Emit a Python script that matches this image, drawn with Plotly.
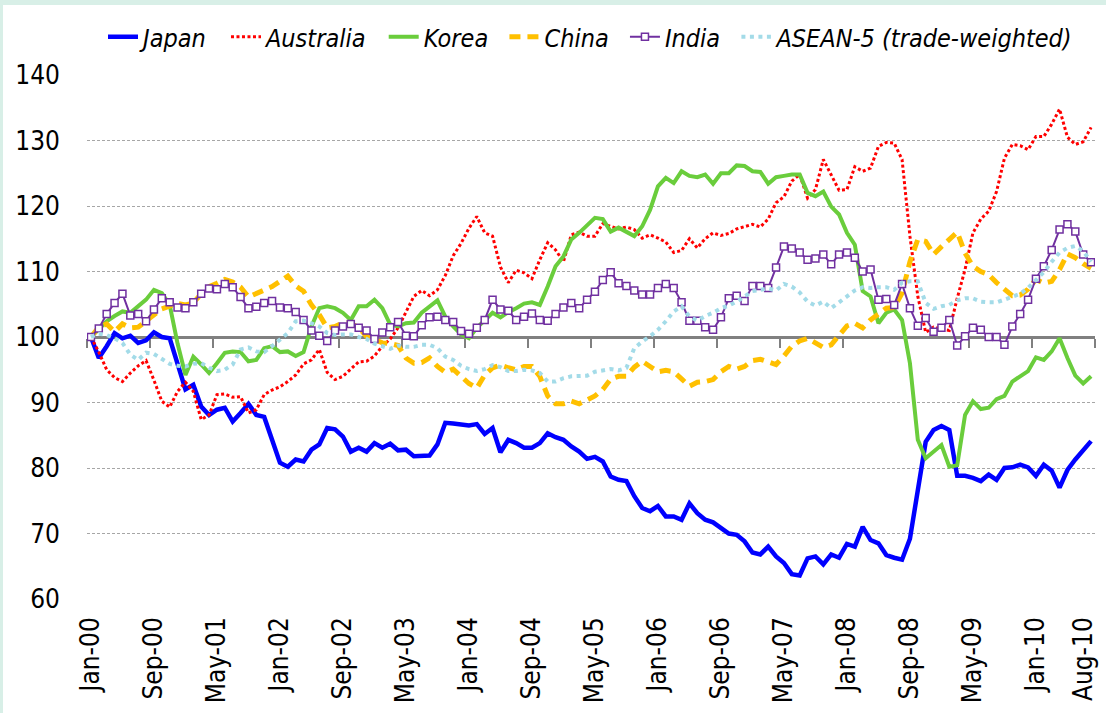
import plotly.graph_objects as go
import pandas as pd

months = pd.date_range("2000-01-01", periods=128, freq="MS").strftime("%b-%y").tolist()
idx = list(range(len(months)))
tick_idx = [0, 8, 16, 24, 32, 40, 48, 56, 64, 72, 80, 88, 96, 104, 112, 120, 127]
tick_labels = [months[i] for i in tick_idx]
# the last label is nudged inward so it fits the frame, as in the original
tick_pos = tick_idx[:-1] + [126]
boundaries = [i - 0.5 for i in range(0, 129, 8)]

japan = [100, 96.8, 98.6, 100.6, 99.8, 100.2, 99.1, 99.5, 100.7, 100.0, 99.8, 96.0, 92.0, 92.7, 89.4, 88.1,
         88.9, 89.2, 87.1, 88.4, 89.8, 88.1, 87.8, 84.3, 80.8, 80.2, 81.3, 81.0, 82.8, 83.6, 86.1, 85.9,
         84.8, 82.5, 83.1, 82.5, 83.8, 83.1, 83.7, 82.7, 82.8, 81.8, 81.9, 81.9, 83.6, 86.9, 86.8, 86.7,
         86.5, 86.7, 85.2, 86.1, 82.4, 84.3, 83.8, 83.1, 83.1, 83.8, 85.3, 84.7, 84.3, 83.3, 82.5, 81.4,
         81.7, 81.0, 78.7, 78.2, 78.0, 75.7, 73.9, 73.4, 74.2, 72.6, 72.6, 72.1, 74.6, 73.1, 72.1, 71.7,
         70.8, 70.0, 69.8, 68.8, 67.1, 66.8, 68.0, 66.5, 65.5, 63.8, 63.6, 66.2, 66.5, 65.3, 66.8, 66.3,
         68.4, 68.0, 71.0, 69.0, 68.5, 66.7, 66.3, 66.0, 69.2, 77.0, 84.0, 85.8, 86.4, 85.8, 78.8, 78.8,
         78.5, 78.0, 79.0, 78.2, 80.0, 80.1, 80.5, 80.1, 78.8, 80.5, 79.6, 77.0, 79.7, 81.3, 82.8, 84.1]

australia = [100, 97.7, 95.0, 93.8, 93.2, 94.5, 95.6, 96.4, 93.4, 90.2, 89.3, 91.7, 93.1, 91.7, 87.4, 88.1,
             91.2, 91.3, 90.8, 90.9, 88.4, 88.9, 91.2, 91.9, 92.4, 93.2, 94.2, 95.9, 96.5, 98.1, 94.6, 93.5,
             94.0, 95.1, 96.2, 96.3, 97.1, 98.6, 99.7, 101.4, 103.9, 106.2, 107.1, 106.3, 107.2, 109.4, 112.4, 114.3,
             116.6, 118.4, 115.9, 115.4, 110.7, 108.3, 110.2, 109.8, 108.9, 111.8, 114.4, 113.3, 111.5, 115.6, 116.0, 115.4,
             115.4, 117.3, 116.9, 116.5, 116.8, 116.4, 115.1, 115.6, 115.1, 114.5, 112.9, 113.2, 115.0, 113.6, 115.0, 115.9,
             115.5, 115.8, 116.5, 116.8, 117.2, 116.8, 118.0, 120.5, 121.4, 123.8, 124.8, 121.2, 122.5, 127.1, 124.8, 122.4,
             122.5, 126.0, 125.3, 125.8, 129.1, 129.7, 129.6, 127.1, 115.4, 106.2, 100.7, 101.5, 101.2, 101.0, 105.9, 110.3,
             115.9, 118.0, 119.2, 122.2, 127.3, 129.4, 129.2, 128.6, 130.6, 130.6, 132.5, 134.8, 130.5, 129.4, 129.8, 132.0]

korea = [100, 101.1, 102.4, 103.2, 103.9, 103.7, 104.7, 105.7, 107.2, 106.7, 104.9, 99.0, 94.2, 97.0, 95.8, 94.5,
         96.0, 97.6, 97.8, 97.7, 96.3, 96.5, 98.3, 98.6, 97.7, 97.8, 97.1, 97.7, 101.6, 104.4, 104.7, 104.4,
         103.7, 102.6, 104.7, 104.7, 105.7, 104.4, 101.9, 101.6, 102.1, 102.2, 103.7, 104.7, 105.6, 103.1, 101.6, 100.4,
         99.8, 101.4, 102.6, 103.7, 103.0, 103.8, 104.4, 105.1, 105.3, 104.9, 107.7, 110.8, 112.3, 114.9, 115.9, 117.1,
         118.2, 118.0, 116.1, 116.7, 116.0, 115.4, 116.9, 119.4, 123.0, 124.3, 123.5, 125.3, 124.6, 124.4, 124.8, 123.4,
         125.0, 125.0, 126.2, 126.1, 125.3, 125.2, 123.4, 124.4, 124.6, 124.8, 124.8, 122.0, 121.5, 122.2, 119.9, 118.7,
         115.9, 114.1, 107.0, 106.2, 102.1, 103.7, 104.2, 102.6, 96.0, 84.3, 81.5, 82.5, 83.5, 80.2, 80.4, 88.1,
         90.2, 89.0, 89.2, 90.5, 91.0, 93.2, 94.0, 94.8, 96.9, 96.5, 97.8, 99.8, 96.8, 94.1, 92.9, 94.0]

china = [100, 101.5, 102.0, 100.8, 102.0, 101.4, 101.5, 102.5, 103.3, 104.3, 104.7, 105.1, 104.9, 105.2, 106.6, 107.7,
         108.2, 108.8, 108.4, 107.6, 106.1, 106.6, 107.2, 107.7, 108.5, 109.3, 107.8, 107.0, 104.9, 103.4, 101.4, 101.6,
         102.2, 102.1, 101.4, 100.1, 99.6, 99.1, 99.0, 98.7, 96.8, 96.0, 96.1, 96.8, 95.5, 94.6, 95.1, 94.0,
         92.9, 92.2, 94.2, 95.3, 95.7, 95.3, 95.0, 95.5, 95.5, 94.0, 91.0, 89.8, 89.8, 90.2, 89.8, 90.4,
         91.0, 92.0, 93.6, 94.0, 94.0, 95.4, 96.3, 95.5, 94.7, 94.9, 94.7, 93.6, 92.5, 93.1, 93.2, 93.5,
         94.7, 95.5, 95.1, 95.5, 96.4, 96.6, 96.2, 95.8, 97.1, 98.6, 99.4, 99.8, 99.1, 98.4, 98.8, 100.2,
         101.7, 102.1, 101.4, 102.6, 103.4, 104.4, 104.5, 106.7, 111.5, 114.9, 114.6, 112.6, 113.8, 114.9, 116.0, 112.8,
         110.8, 110.0, 109.5, 108.3, 107.2, 106.3, 106.4, 107.3, 108.8, 108.2, 108.5, 110.3, 112.7, 112.1, 111.2, 110.5]

india = [100, 101.3, 103.5, 105.2, 106.6, 103.3, 103.5, 102.4, 104.2, 105.9, 105.3, 104.5, 104.4, 105.3, 106.6, 107.4,
         107.3, 108.1, 107.6, 106.1, 104.4, 104.6, 105.2, 105.5, 104.5, 104.4, 103.8, 102.6, 101.0, 100.2, 99.4, 101.0,
         101.6, 102.0, 101.4, 101.0, 99.7, 100.7, 101.5, 102.3, 100.2, 100.1, 101.8, 103.0, 103.1, 102.6, 102.3, 100.9,
         100.5, 101.4, 102.6, 105.7, 104.2, 104.0, 102.6, 103.1, 103.6, 102.6, 102.5, 103.5, 104.5, 105.2, 104.4, 105.7,
         106.9, 108.7, 109.9, 108.2, 107.8, 107.1, 106.5, 106.5, 107.5, 108.1, 107.5, 105.3, 102.5, 102.5, 101.5, 101.1,
         103.0, 105.9, 106.3, 105.5, 107.8, 107.8, 107.5, 110.6, 113.8, 113.5, 112.9, 111.8, 112.0, 112.6, 111.1, 112.6,
         112.9, 112.1, 110.0, 110.3, 105.7, 105.8, 104.9, 108.1, 104.4, 101.7, 102.9, 100.8, 101.4, 102.6, 98.7, 100.1,
         101.4, 101.1, 100.0, 100.0, 98.8, 101.6, 103.5, 105.7, 108.9, 110.8, 113.3, 116.4, 117.2, 116.1, 112.6, 111.4]

asean5 = [100, 100.5, 100.3, 99.8, 99.1, 97.3, 96.5, 97.6, 97.4, 96.6, 95.9, 95.6, 95.5, 95.9, 96.0, 95.3,
          94.8, 95.0, 95.8, 98.1, 98.4, 97.8, 97.7, 98.6, 99.6, 100.6, 102.4, 102.5, 102.1, 101.6, 100.6, 100.3,
          100.4, 100.4, 100.0, 99.7, 99.0, 98.6, 98.2, 98.7, 98.5, 98.5, 98.8, 98.8, 98.3, 97.0, 96.5, 95.6,
          95.1, 94.8, 95.1, 95.7, 95.4, 94.8, 94.8, 95.0, 94.9, 94.5, 93.2, 93.2, 93.7, 94.0, 94.0, 94.1,
          94.7, 94.9, 95.1, 94.9, 95.3, 98.3, 99.3, 100.1, 101.1, 102.4, 103.9, 104.7, 103.1, 102.5, 103.2, 103.7,
          104.4, 104.8, 105.4, 106.2, 107.0, 107.2, 107.4, 107.1, 108.1, 107.7, 106.8, 105.4, 104.8, 105.4, 104.4, 105.3,
          106.2, 107.1, 107.6, 107.5, 107.6, 107.6, 107.2, 108.3, 108.5, 108.5, 105.2, 104.3, 104.7, 104.9, 105.6, 105.9,
          105.9, 105.4, 105.3, 105.3, 105.7, 106.2, 106.6, 107.5, 108.7, 109.9, 111.5, 112.9, 113.6, 113.9, 113.1, 111.5]

FONT = "DejaVu Sans Condensed, Liberation Sans Narrow, Arial Narrow, sans-serif"
SP = "\u2002"

fig = go.Figure()
fig.add_trace(go.Scatter(x=idx, y=japan, name="Japan" + SP, mode="lines",
                         line=dict(color="#0000ff", width=4.5)))
fig.add_trace(go.Scatter(x=idx, y=australia, name="Australia" + SP, mode="lines",
                         line=dict(color="#ff0000", width=3, dash="3px,2.5px")))
fig.add_trace(go.Scatter(x=idx, y=korea, name="Korea" + SP, mode="lines",
                         line=dict(color="#6acd3c", width=4)))
fig.add_trace(go.Scatter(x=idx, y=china, name="China" + SP, mode="lines",
                         line=dict(color="#ffc000", width=5, dash="11px,7px")))
fig.add_trace(go.Scatter(x=idx, y=india, name="India" + SP, mode="lines+markers",
                         line=dict(color="#7030a0", width=2),
                         marker=dict(symbol="square", size=7, color="white",
                                     line=dict(color="#7030a0", width=1.5))))
fig.add_trace(go.Scatter(x=idx, y=asean5, name="ASEAN-5 (trade-weighted)", mode="lines",
                         line=dict(color="#a3dbe8", width=4, dash="4px,4.5px")))
# carrier for the axis drawn through 100
fig.add_trace(go.Scatter(x=idx, y=japan, xaxis="x2", mode="none", showlegend=False, hoverinfo="skip"))

W, H = 1106, 713
L, R, T, B = 87, 11, 75, 114
pw, ph = W - L - R, H - T - B

fig.update_layout(
    width=W, height=H, autosize=False,
    margin=dict(l=L, r=R, t=T, b=B, pad=0, autoexpand=False),
    paper_bgcolor="#d8efe7", plot_bgcolor="white",
    font=dict(family=FONT, size=26, color="black"),
    showlegend=True,
    legend=dict(orientation="h", x=0.5, xanchor="center", y=(H - B - 37) / ph, yanchor="middle",
                font=dict(family=FONT, size=25, style="italic", color="black"),
                bgcolor="rgba(0,0,0,0)", traceorder="normal", itemwidth=30,
                tracegroupgap=0),
    xaxis=dict(range=[-0.5, 127.5], tickmode="array", tickvals=tick_pos, ticktext=tick_labels,
               tickangle=-90, showgrid=False, zeroline=False, showline=False, ticks="",
               ticklabelstandoff=12, ticklabeloverflow="allow",
               tickfont=dict(family=FONT, size=26, color="black")),
    xaxis2=dict(overlaying="x", anchor="free", position=0.5, side="bottom", range=[-0.5, 127.5],
                tickmode="array", tickvals=boundaries, showticklabels=False, ticks="outside",
                ticklen=9, tickwidth=2, tickcolor="#808080", showline=True, linecolor="#808080",
                linewidth=2.5, showgrid=False, zeroline=False, layer="below traces"),
    yaxis=dict(range=[60, 140], tickmode="linear", tick0=60, dtick=10, showgrid=True,
               gridcolor="#a6a6a6", gridwidth=1, griddash="3px,2px", zeroline=False,
               showline=False, ticks="", ticklabelstandoff=26,
               tickfont=dict(family=FONT, size=26, color="black")),
    shapes=[dict(type="rect", xref="paper", yref="paper", layer="below",
                 x0=(3 - L) / pw, x1=(W + 20 - L) / pw,
                 y0=(H - B - H - 20) / ph, y1=(H - B - 5) / ph,
                 fillcolor="white", line=dict(width=0))],
)

fig.write_html("out.html", config={"displayModeBar": False},
               post_script="document.body.style.margin='0';document.body.style.overflow='hidden';")
